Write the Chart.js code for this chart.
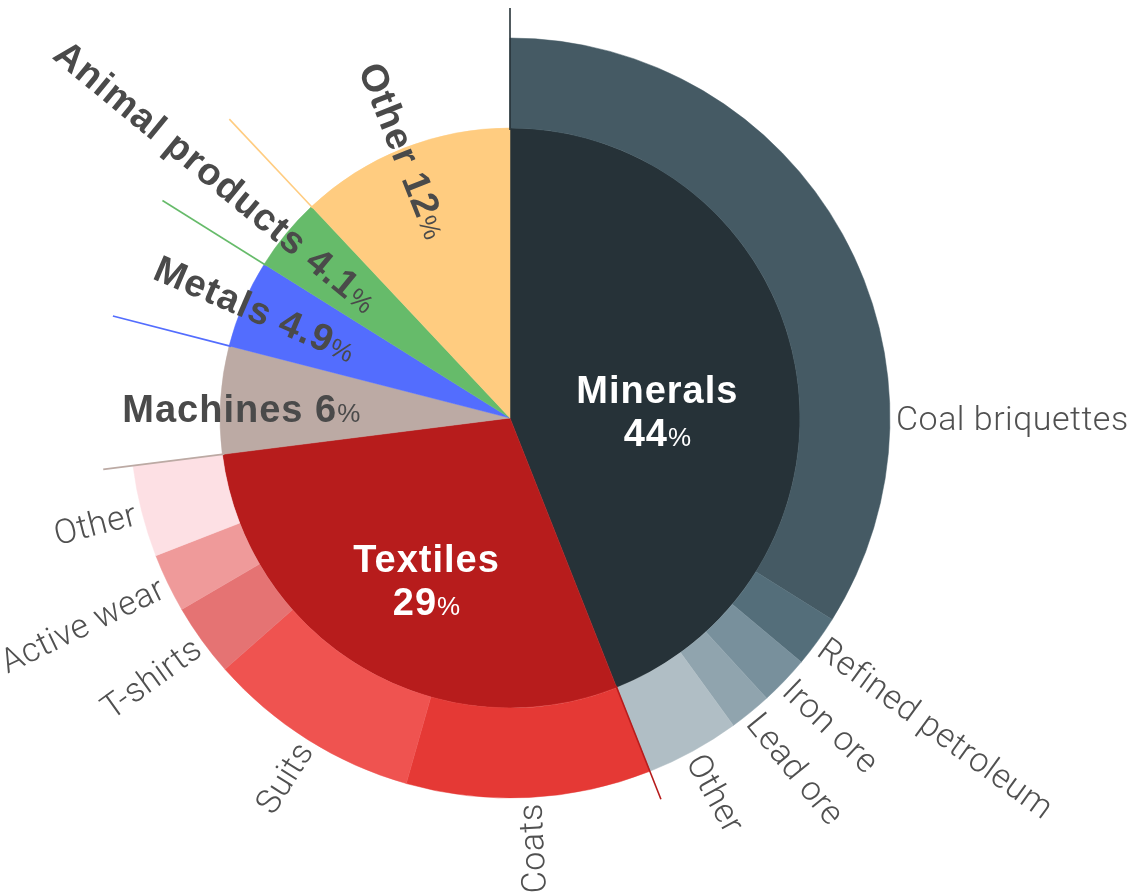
<!DOCTYPE html>
<html>
<head>
<meta charset="utf-8">
<script src="https://cdn.jsdelivr.net/npm/chart.js@4"></script>
<style>
  html, body { margin: 0; padding: 0; background: #fff; }
  #wrap { width: 1143px; height: 894px; }
</style>
</head>
<body>
<div id="wrap"><canvas id="myChart"></canvas></div>
<script>
// main categories (inner pie)
const categories = ['Minerals', 'Textiles', 'Machines', 'Metals', 'Animal products', 'Other'];
const shares = [44, 29, 6, 4.9, 4.1, 12];
const shareText = ['44', '29', '6', '4.9', '4.1', '12'];

// breakdown of minerals and textiles (outer ring)
const subLabels = ['Coal briquettes', 'Refined petroleum', 'Iron ore', 'Lead ore', 'Other',
                   'Coats', 'Suits', 'T-shirts', 'Active wear', 'Other'];
const subShares = [33.9, 2.2, 2.1, 1.8, 4.0, 10.4, 9.1, 3.1, 2.5, 3.9];

const mainColors = ['#263238', '#b71c1c', '#bcaaa4', '#536dfe', '#66bb6a', '#ffcc80'];
const subColors = ['#455a64', '#546e7a', '#78909c', '#90a4ae', '#b0bec5',
                   '#e53935', '#ef5350', '#e57373', '#ef9a9a', '#fde0e4'];

// the rest of the circle has no breakdown
const rest = shares.slice(2).reduce((a, b) => a + b, 0);

// how each inner label is placed
const mainLabelStyle = [
  {kind: 'center', r: 150, color: '#fff'},
  {kind: 'center', r: 164, color: '#fff'},
  {kind: 'flat', r: 150, color: '#4a4a4a'},
  {kind: 'radial', r: 170, color: '#4a4a4a'},
  {kind: 'radial', r: 178, color: '#4a4a4a'},
  {kind: 'radial', r: 195, color: '#4a4a4a'}
];
const subAngleOverride = {0: 0}; // coal briquettes sits flat on the right

const BOLD = 'bold 38px "Liberation Sans", Arial, sans-serif';
const PCT = '26px "Liberation Sans", Arial, sans-serif';
const LIGHT = '300 34px Roboto, "Liberation Sans", sans-serif';

function partsWidth(ctx, parts) {
  let w = 0;
  parts.forEach(p => { ctx.font = p.font; ctx.letterSpacing = p.ls || '0px'; w += ctx.measureText(p.text).width; });
  return w;
}
function drawParts(ctx, parts, x, y) {
  parts.forEach(p => {
    ctx.font = p.font; ctx.letterSpacing = p.ls || '0px';
    ctx.textAlign = 'left';
    ctx.fillText(p.text, x, y);
    x += ctx.measureText(p.text).width;
  });
}

const sunLabels = {
  id: 'sunLabels',
  afterDatasetsDraw(chart) {
    const ctx = chart.ctx;
    const outer = chart.getDatasetMeta(0).data;
    const inner = chart.getDatasetMeta(1).data;
    const cx = inner[0].x, cy = inner[0].y;
    ctx.save();
    ctx.textBaseline = 'alphabetic';

    // leader lines at the start of each main slice
    ctx.lineWidth = 1.6;
    inner.forEach((arc, i) => {
      const a = arc.startAngle;
      ctx.strokeStyle = mainColors[i];
      ctx.beginPath();
      ctx.moveTo(cx + Math.cos(a) * (arc.outerRadius - 2), cy + Math.sin(a) * (arc.outerRadius - 2));
      ctx.lineTo(cx + Math.cos(a) * 410, cy + Math.sin(a) * 410);
      ctx.stroke();
    });

    // outer ring labels
    ctx.fillStyle = '#505050';
    subLabels.forEach((label, i) => {
      const arc = outer[i];
      let a = (arc.startAngle + arc.endAngle) / 2;
      if (subAngleOverride[i] !== undefined) a = subAngleOverride[i];
      const deg = (a + Math.PI / 2) * 180 / Math.PI;
      const r0 = 386;
      ctx.save();
      ctx.translate(cx, cy);
      ctx.font = LIGHT;
      ctx.letterSpacing = '0.5px';
      if (deg < 175) {
        ctx.rotate(a);
        ctx.textAlign = 'left';
        ctx.fillText(label, r0, 12);
      } else {
        ctx.rotate(a + Math.PI);
        ctx.textAlign = 'right';
        ctx.fillText(label, -r0, 12);
      }
      ctx.restore();
    });

    // inner labels
    categories.forEach((name, i) => {
      const arc = inner[i];
      const st = mainLabelStyle[i];
      const a = (arc.startAngle + arc.endAngle) / 2;
      ctx.fillStyle = st.color;
      const px = cx + Math.cos(a) * st.r, py = cy + Math.sin(a) * st.r;
      if (st.kind === 'center') {
        const l1 = [{text: name, font: BOLD, ls: '1px'}];
        const l2 = [{text: shareText[i], font: BOLD, ls: '1px'}, {text: '%', font: PCT}];
        drawParts(ctx, l1, px - partsWidth(ctx, l1) / 2, py + 13);
        drawParts(ctx, l2, px - partsWidth(ctx, l2) / 2, py + 56);
        return;
      }
      const parts = [{text: name + ' ' + shareText[i], font: BOLD, ls: '1px'}, {text: '%', font: PCT}];
      const w = partsWidth(ctx, parts);
      if (st.kind === 'flat') {
        drawParts(ctx, parts, px - w, py + 13);
      } else {
        ctx.save();
        ctx.translate(cx, cy);
        ctx.rotate(a + Math.PI);
        drawParts(ctx, parts, -st.r - w, 13);
        ctx.restore();
      }
    });
    ctx.restore();
  }
};

new Chart('myChart', {
  type: 'pie',
  data: {
    labels: subLabels.concat(['']),
    datasets: [{
      data: subShares.concat([rest]),
      backgroundColor: subColors.concat(['rgba(0,0,0,0)']),
      borderColor: subColors.concat(['rgba(0,0,0,0)']),
      borderWidth: 0.5,
      weight: 90,
      radius: 380
    }, {
      data: shares,
      backgroundColor: mainColors,
      borderColor: mainColors,
      borderWidth: 0.5,
      weight: 290,
      radius: 380
    }]
  },
  options: {
    responsive: true,
    maintainAspectRatio: false,
    animation: false,
    events: [],
    layout: {padding: {left: 0, right: 123, top: 0, bottom: 58}},
    plugins: {legend: {display: false}, tooltip: {enabled: false}}
  },
  plugins: [sunLabels]
});
</script>
</body>
</html>
